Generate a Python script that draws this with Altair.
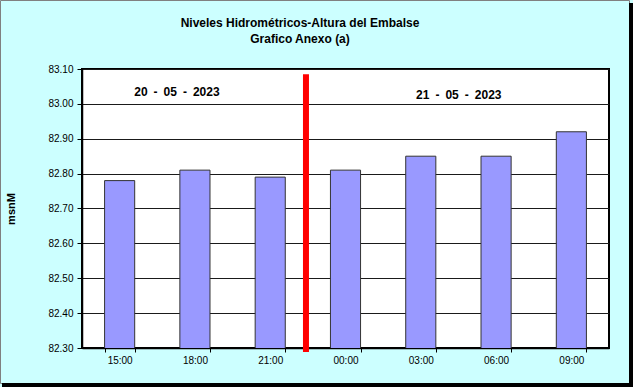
import altair as alt
import pandas as pd

hours = ["15:00", "18:00", "21:00", "00:00", "03:00", "06:00", "09:00"]
levels = [82.78, 82.81, 82.79, 82.81, 82.85, 82.85, 82.92]
y_ticks = [82.30, 82.40, 82.50, 82.60, 82.70, 82.80, 82.90, 83.00, 83.10]
date_labels = ["20\u2002-\u200205\u2002-\u20022023", "21\u2002-\u200205\u2002-\u20022023"]
date_anchor = ["18:00", "03:00"]
date_level = [83.034, 83.025]
divider_after = "21:00"
divider_top = 83.085
title_lines = ["Niveles Hidrométricos-Altura del Embalse", "Grafico Anexo (a)"]

FONT = "Liberation Sans"
W, H = 527, 279

bars_df = pd.DataFrame({"hora": hours, "nivel": levels})

xscale = alt.Scale(domain=hours, paddingInner=0.6, paddingOuter=0.3)
yscale = alt.Scale(domain=[y_ticks[0], y_ticks[-1]], zero=False, nice=False)

bars = alt.Chart(bars_df).mark_bar(
    color="#9999FF", stroke="#333333", strokeWidth=1, clip=True
).encode(
    x=alt.X("hora:N", scale=xscale, sort=hours,
            axis=alt.Axis(title=None, labelAngle=0, tickBand="extent",
                          labelFont=FONT, labelFontSize=10, labelColor="#000",
                          tickColor="#000", tickSize=4, labelPadding=3,
                          domainColor="#000", domainWidth=1.5, grid=False)),
    y=alt.Y("nivel:Q", scale=yscale,
            axis=alt.Axis(title="msnM", values=y_ticks, tickCount=20, format=".2f",
                          labelOverlap=False,
                          labelFont=FONT, labelFontSize=10, labelColor="#000",
                          tickColor="#000", tickSize=5, labelPadding=4,
                          domainColor="#000", domainWidth=1.5,
                          grid=True, gridColor="#1a1a1a", gridWidth=1,
                          titleFont=FONT, titleFontSize=11, titleFontWeight="bold",
                          titleColor="#000", titleX=-66, titleY=H / 2,
                          titleAngle=-90)),
)

texts = []
for lbl, anc, lv, dx in zip(date_labels, date_anchor, date_level, [-18, 38]):
    df = pd.DataFrame({"hora": [anc], "nivel": [lv], "t": [lbl]})
    texts.append(
        alt.Chart(df).mark_text(font=FONT, fontSize=12, fontWeight="bold",
                                color="#000", dx=dx, baseline="middle")
        .encode(x=alt.X("hora:N", scale=xscale, sort=hours),
                y=alt.Y("nivel:Q", scale=yscale), text="t:N")
    )

div_df = pd.DataFrame({"hora": [divider_after], "top": [divider_top]})
divider = alt.Chart(div_df).mark_rule(
    color="#FF0000", strokeWidth=6, strokeCap="butt", xOffset=20.7
).encode(
    x=alt.X("hora:N", scale=xscale, sort=hours, bandPosition=1),
    y=alt.Y("top:Q", scale=yscale),
    y2=alt.value(H + 4),
)

title_l1 = alt.Chart(pd.DataFrame({"t": [title_lines[0]]})).mark_text(
    font=FONT, fontSize=12, fontWeight="bold", color="#000", baseline="middle"
).encode(x=alt.value(218), y=alt.value(-46), text="t:N")
title_l2 = alt.Chart(pd.DataFrame({"t": [title_lines[1]]})).mark_text(
    font=FONT, fontSize=12, fontWeight="bold", color="#000", baseline="middle"
).encode(x=alt.value(218), y=alt.value(-30), text="t:N")

frame = alt.Chart(pd.DataFrame({"a": [0]})).mark_rect(
    fill=None, stroke="#808080", strokeWidth=1
).encode(x=alt.value(-81.5), x2=alt.value(547.5),
         y=alt.value(-68.5), y2=alt.value(314.5))
shadow_b = alt.Chart(pd.DataFrame({"a": [0]})).mark_rule(
    color="#000", strokeWidth=4
).encode(x=alt.value(-80), x2=alt.value(551), y=alt.value(316))
shadow_r = alt.Chart(pd.DataFrame({"a": [0]})).mark_rule(
    color="#000", strokeWidth=4
).encode(x=alt.value(549), y=alt.value(-66), y2=alt.value(318))

chart = alt.layer(bars, *texts, divider, title_l1, title_l2,
                  frame, shadow_b, shadow_r).properties(
    width=W, height=H,
    background="#CCFFFF",
    padding={"left": 82, "top": 69, "right": 24, "bottom": 39},
    autosize=alt.AutoSizeParams(type="none"),
).configure_view(stroke="#000", strokeWidth=2, fill="#FFFFFF")

chart.save("out.html", embed_options={"renderer": "svg", "actions": False})
